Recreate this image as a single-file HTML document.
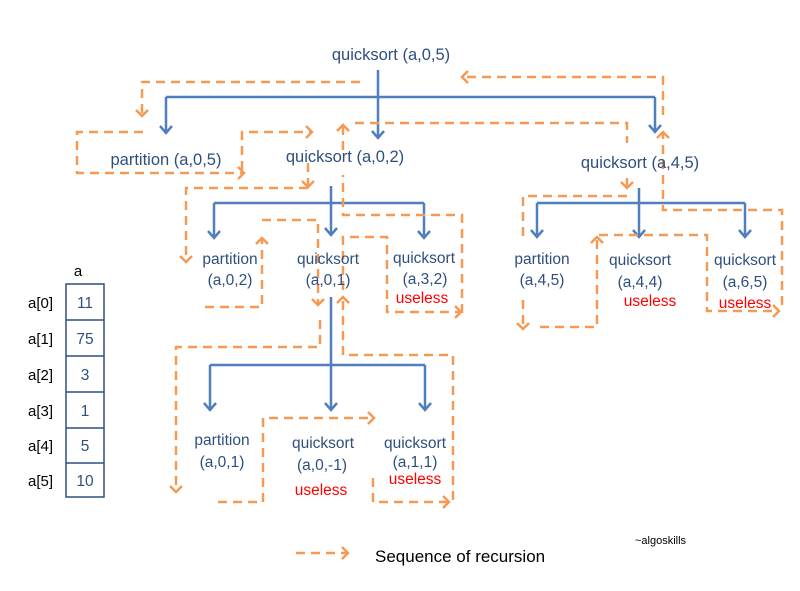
<!DOCTYPE html>
<html><head><meta charset="utf-8"><style>
html,body{margin:0;padding:0;background:#fff;}
svg{display:block;}
text{font-family:"Liberation Sans",sans-serif;}
.t{fill:#2e4f7e;font-size:15.5px;text-anchor:middle;}
.r{fill:#ff0000;font-size:15.5px;text-anchor:middle;}
.b{stroke:#4f7fbc;stroke-width:2.5;fill:none;}
.o{stroke:#f59a55;stroke-width:2.5;fill:none;stroke-dasharray:9,6;}
</style></head><body>
<svg width="800" height="591" viewBox="0 0 800 591">
<defs>
<marker id="ab" viewBox="-10 -10 20 20" refX="0" refY="0" markerWidth="20" markerHeight="20" orient="auto" markerUnits="userSpaceOnUse">
<path d="M-7,-6 L0,0 L-7,6" stroke="#4f7fbc" stroke-width="2.5" fill="none"/>
</marker>
<marker id="ao" viewBox="-10 -10 20 20" refX="0" refY="0" markerWidth="20" markerHeight="20" orient="auto" markerUnits="userSpaceOnUse">
<path d="M-6,-6 L0,0 L-6,6" stroke="#f59a55" stroke-width="2.5" fill="none"/>
</marker>
</defs>

<!-- blue tree -->
<path class="b" d="M378,70 V138" marker-end="url(#ab)"/>
<path class="b" d="M166,97 H655"/>
<path class="b" d="M166,97 V133" marker-end="url(#ab)"/>
<path class="b" d="M655,97 V132" marker-end="url(#ab)"/>

<path class="b" d="M331,186 V235" marker-end="url(#ab)"/>
<path class="b" d="M214,203 H424"/>
<path class="b" d="M214,203 V238" marker-end="url(#ab)"/>
<path class="b" d="M424,203 V238" marker-end="url(#ab)"/>

<path class="b" d="M639,188 V237" marker-end="url(#ab)"/>
<path class="b" d="M537,203 H745"/>
<path class="b" d="M537,203 V237" marker-end="url(#ab)"/>
<path class="b" d="M745,203 V237" marker-end="url(#ab)"/>

<path class="b" d="M331,297 V410" marker-end="url(#ab)"/>
<path class="b" d="M210,365 H425"/>
<path class="b" d="M210,365 V410" marker-end="url(#ab)"/>
<path class="b" d="M425,365 V410" marker-end="url(#ab)"/>

<!-- orange sequence -->
<path class="o" d="M360,82 H142 V116" marker-end="url(#ao)"/>
<path class="o" d="M143,132 H77 V173 H244" marker-end="url(#ao)"/>
<path class="o" d="M242,170 V132 H312" marker-end="url(#ao)"/>
<path class="o" d="M308,163 V187" marker-end="url(#ao)"/>
<path class="o" d="M308,188 H186 V262" marker-end="url(#ao)"/>
<path class="o" d="M205,307 H262 V238" marker-end="url(#ao)"/>
<path class="o" d="M262,220 H318 V305" marker-end="url(#ao)"/>
<path class="o" d="M320,320 V347 H176 V492" marker-end="url(#ao)"/>
<path class="o" d="M218,502 H263 V418 H374" marker-end="url(#ao)"/>
<path class="o" d="M373,478 V502 H449" marker-end="url(#ao)"/>
<path class="o" d="M453,500 V355 H343 V297" marker-end="url(#ao)"/>
<path class="o" d="M343,290 V237 H387 V312 H461" marker-end="url(#ao)"/>
<path class="o" d="M462,313 V215 H343 V175"/>
<path class="o" d="M343,150 V125" marker-end="url(#ao)"/>
<path class="o" d="M355,123 H627 V143"/>
<path class="o" d="M627,178 V188" marker-end="url(#ao)"/>
<path class="o" d="M627,196 H523 V242"/>
<path class="o" d="M523,300 V329" marker-end="url(#ao)"/>
<path class="o" d="M540,327 H597 V237" marker-end="url(#ao)"/>
<path class="o" d="M599,235 H707 V311 H779" marker-end="url(#ao)"/>
<path class="o" d="M782,305 V210 H663 V132" marker-end="url(#ao)"/>
<path class="o" d="M663,115 V77 H462" marker-end="url(#ao)"/>

<!-- labels -->
<text class="t" x="391" y="60" style="font-size:16.5px">quicksort (a,0,5)</text>
<text class="t" x="166" y="165" style="font-size:16.5px">partition (a,0,5)</text>
<text class="t" x="345" y="162" style="font-size:16.5px">quicksort (a,0,2)</text>
<text class="t" x="640" y="168" style="font-size:16.5px">quicksort (a,4,5)</text>

<text class="t" x="230" y="264">partition</text>
<text class="t" x="230" y="285">(a,0,2)</text>
<text class="t" x="328" y="264">quicksort</text>
<text class="t" x="328" y="285">(a,0,1)</text>
<text class="t" x="424" y="263">quicksort</text>
<text class="t" x="425" y="284">(a,3,2)</text>
<text class="r" x="422" y="303">useless</text>

<text class="t" x="542" y="264">partition</text>
<text class="t" x="542" y="285">(a,4,5)</text>
<text class="t" x="640" y="265">quicksort</text>
<text class="t" x="640" y="287">(a,4,4)</text>
<text class="r" x="650" y="306">useless</text>
<text class="t" x="745" y="265">quicksort</text>
<text class="t" x="745" y="287">(a,6,5)</text>
<text class="r" x="745" y="308">useless</text>

<text class="t" x="222" y="445">partition</text>
<text class="t" x="222" y="467">(a,0,1)</text>
<text class="t" x="323" y="448">quicksort</text>
<text class="t" x="322" y="470">(a,0,-1)</text>
<text class="r" x="321" y="495">useless</text>
<text class="t" x="415" y="448">quicksort</text>
<text class="t" x="415" y="467">(a,1,1)</text>
<text class="r" x="415" y="484">useless</text>

<!-- array -->
<text x="78" y="276" style="font-size:15px;fill:#000;text-anchor:middle">a</text>
<g stroke="#2e4f7e" stroke-width="1.5" fill="none">
<rect x="66" y="284" width="38" height="213"/>
<path d="M66,320 H104 M66,356 H104 M66,392 H104 M66,428 H104 M66,463 H104"/>
</g>
<g style="font-size:15px">
<text x="28" y="308" fill="#000">a[0]</text><text class="t" x="85" y="308">11</text>
<text x="28" y="344" fill="#000">a[1]</text><text class="t" x="85" y="344">75</text>
<text x="28" y="380" fill="#000">a[2]</text><text class="t" x="85" y="380">3</text>
<text x="28" y="416" fill="#000">a[3]</text><text class="t" x="85" y="416">1</text>
<text x="28" y="451" fill="#000">a[4]</text><text class="t" x="85" y="451">5</text>
<text x="28" y="486" fill="#000">a[5]</text><text class="t" x="85" y="486">10</text>
</g>

<!-- legend -->
<path class="o" d="M296,553 H348" marker-end="url(#ao)"/>
<text x="375" y="562" style="font-size:17px;fill:#000">Sequence of recursion</text>
<text x="635" y="544" style="font-size:11px;fill:#000">~algoskills</text>
</svg>
</body></html>
